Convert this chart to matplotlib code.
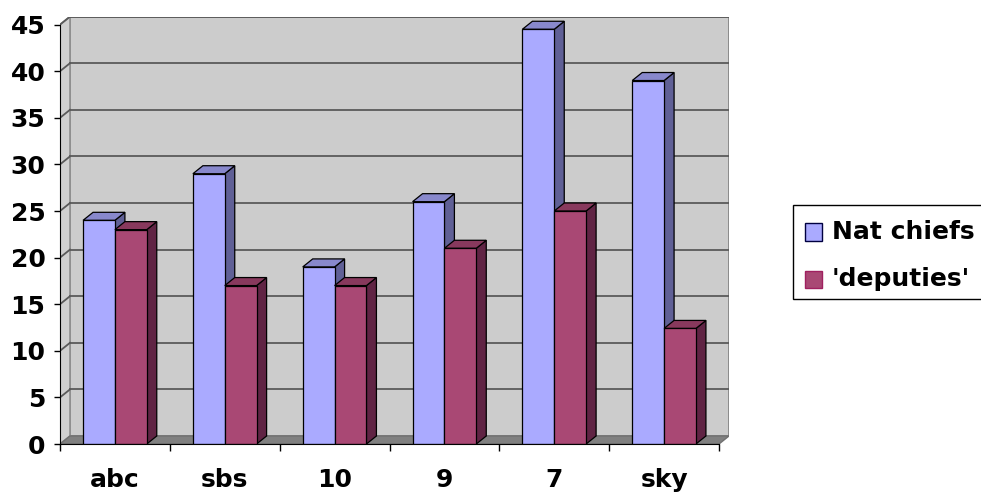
import matplotlib.pyplot as plt
from matplotlib.patches import Polygon, Rectangle
import numpy as np

categories = ["abc", "sbs", "10", "9", "7", "sky"]
series_names = ["Nat chiefs", "'deputies'"]
nat_chiefs = [24, 29, 19, 26, 44.5, 39]
deputies = [23, 17, 17, 21, 25, 12.4]

# front / top / side shades for each series
shades = [
    ("#aaaaff", "#8888cc", "#606096"),
    ("#a94874", "#88395d", "#602444"),
]


def main():
    plt.rcParams["font.family"] = ["DejaVu Sans"]
    plt.rcParams["font.weight"] = "bold"
    fs = 18

    W, H = 981, 494
    fig = plt.figure(figsize=(W / 100, H / 100), dpi=100)

    ymax = 45
    dx, dy = 0.091, 0.86  # depth of the 3d box in data units
    ncat = len(categories)
    x0, x1 = -0.5, ncat - 0.5

    left, right, top, bottom = 60, 729, 16.6, 444
    ax = fig.add_axes([left / W, 1 - bottom / H, (right - left) / W, (bottom - top) / H])
    ax.set_xlim(x0, x1 + dx)
    ax.set_ylim(0, ymax + dy)
    ax.patch.set_visible(False)

    # walls and floor
    ax.add_patch(Polygon([(x0 + dx, dy), (x1 + dx, dy), (x1 + dx, ymax + dy), (x0 + dx, ymax + dy)],
                         closed=True, fc="#cccccc", ec="#808080", lw=1.2, zorder=0))
    ax.add_patch(Polygon([(x0, 0), (x0 + dx, dy), (x0 + dx, ymax + dy), (x0, ymax)],
                         closed=True, fc="#d0d0d0", ec="#909090", lw=1.2, zorder=0))
    ax.add_patch(Polygon([(x0, 0), (x1, 0), (x1 + dx, dy), (x0 + dx, dy)],
                         closed=True, fc="#808080", ec="#707070", lw=1, zorder=0))

    yt = np.arange(0, ymax + 1, 5)
    for v in yt[1:]:
        ax.plot([x0 + dx, x1 + dx], [v + dy, v + dy], color="#5a5a5a", lw=1.3, zorder=1)
        ax.plot([x0, x0 + dx], [v, v + dy], color="#5a5a5a", lw=1.3, zorder=1)

    # bars
    bw = 0.29
    xs = np.arange(ncat)
    z = 2
    for i in range(ncat):
        for s, vals in enumerate([nat_chiefs, deputies]):
            fc, tc, sc = shades[s]
            bl = xs[i] - bw + s * bw
            br = bl + bw
            h = vals[i]
            ax.add_patch(Polygon([(br, 0), (br + dx, dy), (br + dx, h + dy), (br, h)],
                                 closed=True, fc=sc, ec="black", lw=0.9, zorder=z))
            ax.add_patch(Polygon([(bl, h), (br, h), (br + dx, h + dy), (bl + dx, h + dy)],
                                 closed=True, fc=tc, ec="black", lw=0.9, zorder=z))
            ax.bar(bl, h, width=bw, align="edge", color=fc, edgecolor="black", lw=0.9, zorder=z)
            z += 1

    # axes
    for sp in ["top", "right"]:
        ax.spines[sp].set_visible(False)
    ax.spines["left"].set_bounds(0, ymax)
    ax.spines["bottom"].set_bounds(x0, x1)
    ax.spines["left"].set_zorder(50)
    ax.spines["bottom"].set_zorder(50)
    ax.set_yticks(yt)
    ax.set_yticklabels([str(int(v)) for v in yt])
    ax.tick_params(axis="y", length=4.5, width=1, pad=6, labelsize=fs)
    ax.set_xticks(np.arange(x0, x1 + 0.01, 1.0))
    ax.set_xticklabels([])
    ax.set_xticks(xs, minor=True)
    ax.set_xticklabels(categories, minor=True)
    ax.tick_params(axis="x", which="major", length=5, width=1)
    ax.tick_params(axis="x", which="minor", length=0, pad=17, labelsize=fs)
    for t in ax.get_yticklabels() + ax.get_xticklabels(minor=True):
        t.set_fontweight("bold")

    # legend box runs off the right edge like the original
    fig.patches.append(Rectangle((793 / W, 1 - 299 / H), 200 / W, 94 / H, transform=fig.transFigure,
                                 fc="white", ec="black", lw=1))
    for k, name in enumerate(series_names):
        yc = [232, 279][k]
        fig.patches.append(Rectangle((805 / W, 1 - (yc + 8.5) / H), 17 / W, 17 / H, transform=fig.transFigure,
                                     fc=shades[k][0], ec=["#000040", "#a02060"][k], lw=1))
        fig.text(832 / W, 1 - yc / H, name, fontsize=fs, fontweight="bold", va="center", ha="left")

    plt.savefig("out.png", dpi=100)


if __name__ == "__main__":
    main()
